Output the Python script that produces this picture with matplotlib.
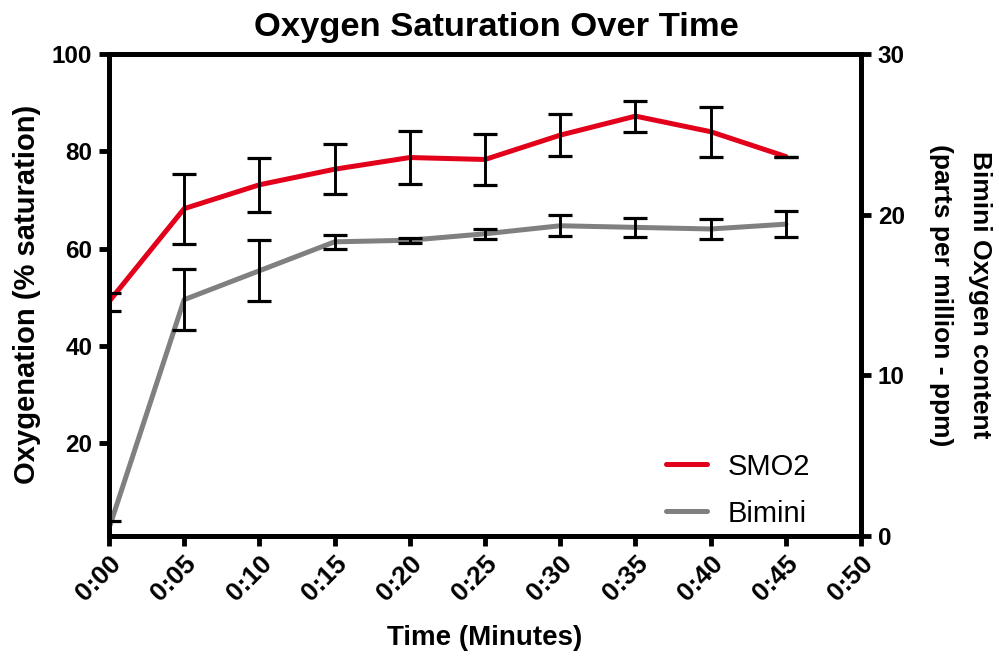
import matplotlib
matplotlib.use("Agg")
import matplotlib.pyplot as plt

plt.rcParams['font.family'] = ['Liberation Sans', 'DejaVu Sans']

# Elapsed time (minutes) and tick labels
minutes = [0, 5, 10, 15, 20, 25, 30, 35, 40, 45]
tick_minutes = [0, 5, 10, 15, 20, 25, 30, 35, 40, 45, 50]
tick_labels = ["0:00", "0:05", "0:10", "0:15", "0:20", "0:25",
               "0:30", "0:35", "0:40", "0:45", "0:50"]

# SMO2 muscle oxygenation (% saturation) with error
smo2 = [49.1, 68.2, 73.1, 76.3, 78.7, 78.3, 83.3, 87.2, 84.0, 78.9]
smo2_err = [1.85, 7.2, 5.5, 5.1, 5.5, 5.3, 4.3, 3.2, 5.1, 0.0]

# Bimini dissolved oxygen (ppm) with error
bimini = [0.45, 14.7, 16.5, 18.3, 18.4, 18.8, 19.3, 19.2, 19.1, 19.4]
bimini_err = [0.45, 1.9, 1.9, 0.45, 0.16, 0.3, 0.65, 0.6, 0.6, 0.8]

RED = "#E2001A"
GRAY = "#808080"
SPINE_W = 3.5

fig = plt.figure(figsize=(9.99, 6.56), dpi=100)
ax = fig.add_axes([0.109, 0.183, 0.753, 0.735])
ax2 = ax.twinx()

# SMO2 on the left axis
ax.plot(minutes, smo2, color=RED, lw=3.6, solid_capstyle='round', zorder=2,
        label="SMO2")
ax.errorbar(minutes, smo2, yerr=smo2_err, fmt='none', ecolor='black',
            elinewidth=2.1, capsize=8.5, capthick=2.3, zorder=3)

# Bimini on the right axis
ax2.plot(minutes, bimini, color=GRAY, lw=3.6, solid_capstyle='round',
         zorder=2, label="Bimini")
ax2.errorbar(minutes, bimini, yerr=bimini_err, fmt='none', ecolor='black',
             elinewidth=2.1, capsize=8.5, capthick=2.3, zorder=3)

ax.set_xlim(0, 50)
ax.set_ylim(1, 100)
ax2.set_ylim(0, 30)

ax.set_xticks(tick_minutes)
ax.set_xticklabels(tick_labels, rotation=45, ha='right',
                   rotation_mode='anchor', fontsize=19, fontweight='bold')
ax.set_yticks([20, 40, 60, 80, 100])
ax.set_yticklabels(["20", "40", "60", "80", "100"], fontsize=17.5,
                   fontweight='bold')
ax2.set_yticks([0, 10, 20, 30])
ax2.set_yticklabels(["0", "10", "20", "30"], fontsize=17.5, fontweight='bold')

for a in (ax, ax2):
    for s in a.spines.values():
        s.set_linewidth(SPINE_W)
        s.set_color('black')
    a.tick_params(direction='out', length=7, width=SPINE_W, pad=5)
ax.tick_params(axis='x', pad=4)

ax.set_xlabel("Time (Minutes)", fontsize=20, fontweight='bold', labelpad=14)
ax.set_ylabel("Oxygenation (% saturation)", fontsize=21, fontweight='bold',
              labelpad=8)
ax2.set_ylabel("Bimini Oxygen content\n(parts per million - ppm)",
               fontsize=19, fontweight='bold', rotation=270, labelpad=63,
               linespacing=1.8)
fig.text(0.497, 0.958, "Oxygen Saturation Over Time", fontsize=24.8,
         fontweight='bold', ha='center', va='center')

h1, l1 = ax.get_legend_handles_labels()
h2, l2 = ax2.get_legend_handles_labels()
leg = ax2.legend(h1 + h2, l1 + l2, loc='lower right', frameon=False,
                 fontsize=21, handlelength=1.4, handletextpad=0.7,
                 labelspacing=0.65, bbox_to_anchor=(0.967, -0.037))

fig.savefig("out.png", dpi=100)
